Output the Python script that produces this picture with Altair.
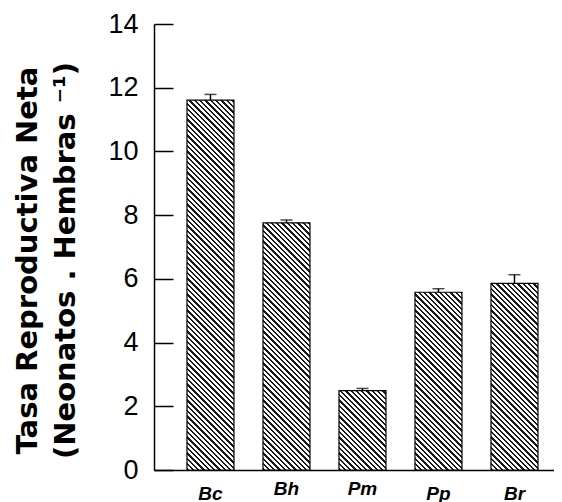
import altair as alt
import pandas as pd

species = ["Bc", "Bh", "Pm", "Pp", "Br"]
values = [11.61, 7.76, 2.49, 5.58, 5.86]
errors = [0.18, 0.09, 0.07, 0.11, 0.27]
y_ticks = [0, 2, 4, 6, 8, 10, 12, 14]

df = pd.DataFrame({"sp": species, "v": values, "e": errors})
df["top"] = df["v"] + df["e"]

W, H = 400, 446
Y_MAX = 14
BAND_W = 47
PERIOD = 5.3
DARK = 2.3


def hatch(value):
    h = value / Y_MAX * H
    span = BAND_W + h
    k = (BAND_W + h) / (BAND_W ** 2 + h ** 2)
    stops = []
    u = 0.0
    while u < span:
        a = u / span
        b = min((u + DARK) / span, 1.0)
        stops += [
            alt.GradientStop(color="#ffffff", offset=a),
            alt.GradientStop(color="#1a1a1a", offset=a),
            alt.GradientStop(color="#1a1a1a", offset=b),
            alt.GradientStop(color="#ffffff", offset=b),
        ]
        u += PERIOD
    stops.append(alt.GradientStop(color="#ffffff", offset=1.0))
    return alt.LinearGradient(
        gradient="linear", stops=stops,
        x1=0, y1=1, x2=k * BAND_W, y2=1 - k * h,
    )


x_enc = alt.X(
    "sp:N", sort=species,
    scale=alt.Scale(paddingInner=0.3816, paddingOuter=0.3224, align=0.673),
    axis=alt.Axis(
        title=None, labelAngle=0, ticks=False,
        labelFont="Liberation Sans", labelFontSize=19, labelFontWeight="bold",
        labelFontStyle="italic", labelColor="#000000",
        labelPadding={"condition": {"test": "datum.value == 'Bh' || datum.value == 'Pm'", "value": 9}, "value": 14},
        domainColor="#000000", domainWidth=1.5,
    ),
)
y_enc = alt.Y(
    "v:Q",
    scale=alt.Scale(domain=[0, Y_MAX], nice=False, zero=True),
    axis=alt.Axis(
        values=y_ticks,
        title=["Tasa Reproductiva Neta", "(Neonatos . Hembras \u207b\u00b9)"],
        titleFont="DejaVu Sans", titleFontSize=29, titleFontWeight="bold",
        titleColor="#000000", titleAngle=270, titleAlign="center",
        titleBaseline="top", titleX=-141, titleY=236, titleLineHeight=38,
        labelFont="Liberation Sans", labelFontSize=27, labelColor="#000000",
        labelPadding=35,
        tickSize=alt.ExprRef(expr="-19"), tickColor="#000000", tickWidth=1.5,
        domainColor="#000000", domainWidth=1.5, grid=False,
    ),
)

layers = []
for s, v in zip(species, values):
    layers.append(
        alt.Chart(df).transform_filter(alt.datum.sp == s).mark_bar(
            fill=hatch(v), stroke="#000000", strokeWidth=1.2
        ).encode(x=x_enc, y=y_enc)
    )

err = alt.Chart(df).mark_rule(color="#000000", strokeWidth=1.5).encode(
    x=alt.X("sp:N", sort=species), y="v:Q", y2="top:Q"
)
cap = alt.Chart(df).mark_tick(color="#000000", thickness=1.5, size=12).encode(
    x=alt.X("sp:N", sort=species), y="top:Q"
)

chart = alt.layer(*layers, err, cap).properties(
    width=W, height=H,
    autosize=alt.AutoSizeParams(type="none"),
    padding={"left": 146, "top": 16, "right": 0, "bottom": 32},
    background="#ffffff",
).configure_view(stroke=None)

chart.save("out.html", embed_options={"renderer": "svg", "actions": False})
